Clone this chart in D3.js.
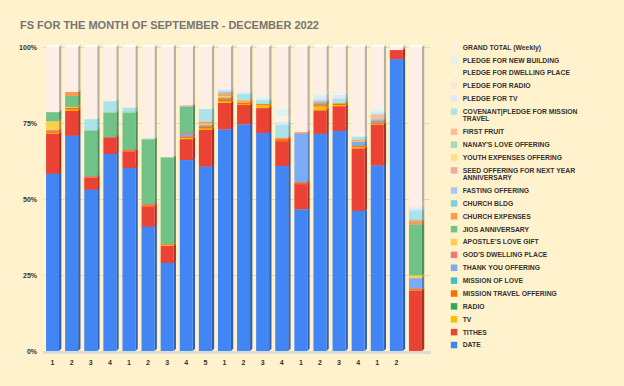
<!DOCTYPE html>
<html>
<head>
<meta charset="utf-8">
<script src="https://cdn.jsdelivr.net/npm/d3@7"></script>
<style>
  body { margin: 0; background: #FFF2CC; }
  svg { display: block; font-family: "Liberation Sans", Arial, sans-serif; }
</style>
</head>
<body>
<div id="chart"></div>
<script>
// Data (share of each weekly column)
const weeks = ["1", "2", "3", "4", "1", "2", "3", "4", "5", "1", "2", "3", "4", "1", "2", "3", "4", "1", "2", ""];

// series, bottom of the stack first
const seriesNames = [
    "DATE", "TITHES", "TV", "RADIO", "MISSION TRAVEL OFFERING", "MISSION OF LOVE",
    "THANK YOU OFFERING", "GOD'S DWELLING PLACE", "APOSTLE'S LOVE GIFT", "JIOS ANNIVERSARY",
    "CHURCH EXPENSES", "CHURCH BLDG", "FASTING OFFERING", "SEED OFFERING FOR NEXT YEAR ANNIVERSARY",
    "YOUTH EXPENSES OFFERING", "NANAY'S LOVE OFFERING", "FIRST FRUIT",
    "COVENANT|PLEDGE FOR MISSION TRAVEL", "PLEDGE FOR TV", "PLEDGE FOR RADIO",
    "PLEDGE FOR DWELLING PLACE", "PLEDGE FOR NEW BUILDING", "GRAND TOTAL (Weekly)"
];

const seriesColors = [
    "#4285F4", "#EA4335", "#FBBC04", "#34A853", "#FF6D01", "#46BDC6",
    "#7BAAF7", "#F07B72", "#FCD04F", "#71C287",
    "#FF994D", "#7ED1D7", "#A8C7FA", "#F5A8A3",
    "#FDDE8A", "#A7DBB7", "#FFBD94",
    "#ABE3E8", "#DDE8FC", "#FBE3E2",
    "#FEF4DD", "#E0F3EE", "#FDEFE6"
];

const date          = [58.5, 70.8, 53.2, 64.8, 60.5, 41.1, 29.0, 62.8, 60.6, 74.0, 75.0, 71.7, 60.5, 46.6, 71.3, 71.7, 45.7, 61.2, 96.0, 0];
const tithes        = [13.3, 8.2, 4.1, 5.5, 5.5, 6.7, 5.6, 6.9, 12.1, 8.8, 6.4, 8.2, 8.1, 8.3, 7.7, 8.1, 20.4, 13.5, 3.0, 20.0];
const tv            = [0.3, 0.5, 0, 0, 0, 0, 0.3, 0.4, 0.5, 0.6, 0.3, 1.0, 0, 0, 1.3, 0.4, 0.5, 0.3, 0, 0.2];
const radio         = [0, 0, 0, 0, 0, 0, 0, 0, 0, 0, 0, 0, 0, 0, 0, 0, 0, 0, 0, 0];
const missionTravel = [0.3, 0.5, 0, 0, 0.2, 0.3, 0, 0.4, 0.5, 0.5, 0.5, 0.3, 0.6, 0.5, 0.3, 0.5, 0.3, 0.3, 0, 0.3];
const missionLove   = [0, 0, 0, 0, 0, 0, 0, 0, 0, 0.2, 0, 0, 0, 0, 0.2, 0, 0, 0, 0, 0];
const thankYou      = [0, 0, 0, 0, 0, 0, 0, 0.8, 0.5, 0, 0, 0, 0, 16.1, 0, 0, 1.3, 0.6, 0, 3.5];
const godsDwelling  = [0.5, 0, 0.3, 0, 0.3, 0.5, 0.3, 0.4, 0, 0.5, 0, 0, 0, 0, 0.3, 0, 0, 0, 0, 0];
const apostles      = [3.0, 0.3, 0, 0, 0, 0, 0, 0, 0.5, 0.6, 0.3, 0, 0, 0, 0, 0, 0.3, 0, 0, 0.9];
const jios          = [3.0, 3.6, 15.1, 8.1, 12.2, 21.4, 28.6, 8.7, 0, 0, 0, 0, 0, 0, 0, 0, 0, 0, 0, 16.8];
const churchExp     = [0, 1.3, 0, 0, 0, 0, 0, 0, 0.6, 0.5, 0.4, 0, 0.5, 0.3, 0.3, 0, 0.3, 0.3, 0, 1.1];
const churchBldg    = [0, 0, 0, 0, 0, 0, 0, 0, 0, 0.3, 0, 0, 0, 0, 0.3, 0, 0, 0, 0, 0.3];
const fasting       = [0, 0, 0, 0, 0, 0, 0, 0, 0, 0, 0, 0, 0, 0, 0, 0, 0, 0.4, 0, 0];
const seed          = [0, 0, 0, 0, 0, 0, 0, 0.4, 0, 0.4, 0, 0, 0, 0.2, 0.3, 0, 0, 0, 0, 0];
const youth         = [0, 0, 0, 0, 0, 0, 0, 0, 0, 0, 0, 0, 0, 0, 0, 0, 0, 0, 0, 0];
const nanays        = [0, 0, 0.3, 0.3, 0.5, 0.3, 0, 0, 0, 0, 0, 0, 0, 0, 0, 0, 0, 0, 0, 0.3];
const firstFruit    = [0, 0, 0, 0, 0, 0, 0, 0, 0, 0, 0, 0, 0, 0, 0, 0, 0, 1.3, 0, 0];
const covenant      = [0, 0, 3.5, 3.5, 1.3, 0, 0, 0, 4.2, 0.4, 2.2, 1.3, 4.3, 0, 0.5, 1.6, 1.0, 0.4, 0, 3.0];
const pledgeTv      = [0, 0, 0, 0, 0, 0, 0, 0, 0, 0.7, 0.5, 0.5, 1.1, 0, 1.5, 1.3, 0.4, 0.6, 0, 0.8];
const pledgeRadio   = [0, 0, 0, 0, 0, 0, 0, 0, 0, 0, 0, 0, 0, 0, 0, 0, 0, 0, 0, 0.5];
const pledgeDwell   = [0, 0, 0, 0, 0, 0, 0, 0, 0, 0, 0, 0, 1.6, 0, 0.4, 0.4, 0.3, 0, 0, 0.5];
const pledgeBldg    = [0, 0, 0, 0, 0, 0, 0, 0, 0, 0, 0, 0.6, 2.5, 0, 0.4, 0.4, 0, 1.0, 0, 0.4];
const grandTotal    = [21.5, 14.8, 23.8, 17.8, 20.0, 30.3, 36.3, 19.2, 20.4, 14.0, 15.0, 16.4, 20.2, 28.0, 15.0, 14.7, 28.7, 20.4, 1.0, 51.6];

const seriesValues = [
    date, tithes, tv, radio, missionTravel, missionLove, thankYou, godsDwelling, apostles, jios,
    churchExp, churchBldg, fasting, seed, youth, nanays, firstFruit, covenant, pledgeTv,
    pledgeRadio, pledgeDwell, pledgeBldg, grandTotal
];

const yTicks = [0, 0.25, 0.5, 0.75, 1];

// legend labels (top to bottom), with line breaks as in the picture
const legendLines = {
    "COVENANT|PLEDGE FOR MISSION TRAVEL": ["COVENANT|PLEDGE FOR MISSION", "TRAVEL"],
    "SEED OFFERING FOR NEXT YEAR ANNIVERSARY": ["SEED OFFERING FOR NEXT YEAR", "ANNIVERSARY"]
};

const chartWidth = 624;
const chartHeight = 386;
const depth = 2.3;

// build table for the stack
const table = weeks.map((w, i) => {
    const row = {idx: i};
    seriesNames.forEach((s, k) => row[s] = seriesValues[k][i]);
    return row;
});

const stack = d3.stack()
    .keys(seriesNames)
    .offset(d3.stackOffsetExpand);
const layers = stack(table);

const xScale = d3.scaleBand()
    .domain(d3.range(weeks.length))
    .range([43, 425])
    .paddingInner(0.32)
    .paddingOuter(0.16);

const yScale = d3.scaleLinear()
    .domain([0, 1])
    .range([351, 47]);

const color = d3.scaleOrdinal().domain(seriesNames).range(seriesColors);

const svg = d3.select("#chart")
    .append("svg")
    .attr("width", chartWidth)
    .attr("height", chartHeight);

svg.append("rect")
    .attr("width", chartWidth)
    .attr("height", chartHeight)
    .attr("fill", "#FFF2CC");

// title
svg.append("text")
    .attr("x", 20)
    .attr("y", 28.7)
    .attr("font-size", 11)
    .attr("font-weight", "bold")
    .attr("fill", "#757575")
    .text("FS FOR THE MONTH OF SEPTEMBER - DECEMBER 2022");

// gridlines
const grid = svg.append("g")
    .attr("transform", "translate(44,0)")
    .call(d3.axisLeft(yScale).tickValues(yTicks).tickSize(-386).tickFormat(""));
grid.select(".domain").remove();
grid.selectAll("line").attr("stroke", "#E6DAB4").attr("stroke-width", 1);

// floor
svg.append("rect")
    .attr("x", 43)
    .attr("y", yScale(0))
    .attr("width", 388)
    .attr("height", 3)
    .attr("fill", "#DEDBD3");

// y labels
const yAxis = svg.append("g")
    .attr("transform", "translate(38,0)")
    .call(d3.axisLeft(yScale).tickValues(yTicks).tickSize(0).tickPadding(1).tickFormat(d3.format(".0%")));
yAxis.select(".domain").remove();
yAxis.selectAll("text")
    .attr("font-size", 7)
    .attr("font-weight", "bold")
    .attr("fill", "#333")
    .attr("font-family", "Liberation Sans, Arial, sans-serif");

// bars with a small 3D side and top
const bw = xScale.bandwidth();
layers.forEach(layer => {
    const c = color(layer.key);
    const side = d3.color(c).darker(0.9).formatHex();
    const g = svg.append("g");
    layer.forEach((d, i) => {
        const y0 = yScale(d[0]);
        const y1 = yScale(d[1]);
        if (y0 - y1 <= 0.01) return;
        const x = xScale(i);
        g.append("path")
            .attr("d", `M${x},${y1}L${x + depth},${y1 - depth}L${x + bw + depth},${y1 - depth}L${x + bw},${y1}Z`)
            .attr("fill", d3.color(c).brighter(0.2).formatHex());
        g.append("path")
            .attr("d", `M${x + bw},${y0}L${x + bw + depth},${y0 - depth}L${x + bw + depth},${y1 - depth}L${x + bw},${y1}Z`)
            .attr("fill", side);
        g.append("rect")
            .attr("x", x)
            .attr("y", y1)
            .attr("width", bw)
            .attr("height", y0 - y1)
            .attr("fill", c);
    });
});

// x labels
const xAxis = svg.append("g")
    .attr("transform", "translate(0," + (yScale(0) + 4) + ")")
    .call(d3.axisBottom(xScale).tickSize(0).tickPadding(5).tickFormat(i => weeks[i]));
xAxis.select(".domain").remove();
xAxis.selectAll("text")
    .attr("font-size", 7)
    .attr("font-weight", "bold")
    .attr("fill", "#333")
    .attr("font-family", "Liberation Sans, Arial, sans-serif");

// legend, top of the stack first
const legend = svg.append("g");
let ly = 47.3;
seriesNames.slice().reverse().forEach(name => {
    const lines = legendLines[name] || [name];
    legend.append("rect")
        .attr("x", 450.8)
        .attr("y", ly - 3.3)
        .attr("width", 6.5)
        .attr("height", 6.5)
        .attr("fill", color(name));
    lines.forEach((t, j) => {
        legend.append("text")
            .attr("x", 462.7)
            .attr("y", ly + 2.4 + j * 6.8)
            .attr("font-size", 6.8)
            .attr("font-weight", "bold")
            .attr("fill", "#333")
            .text(t);
    });
    ly += 12.87 + (lines.length - 1) * 7.3;
});
</script>
</body>
</html>
